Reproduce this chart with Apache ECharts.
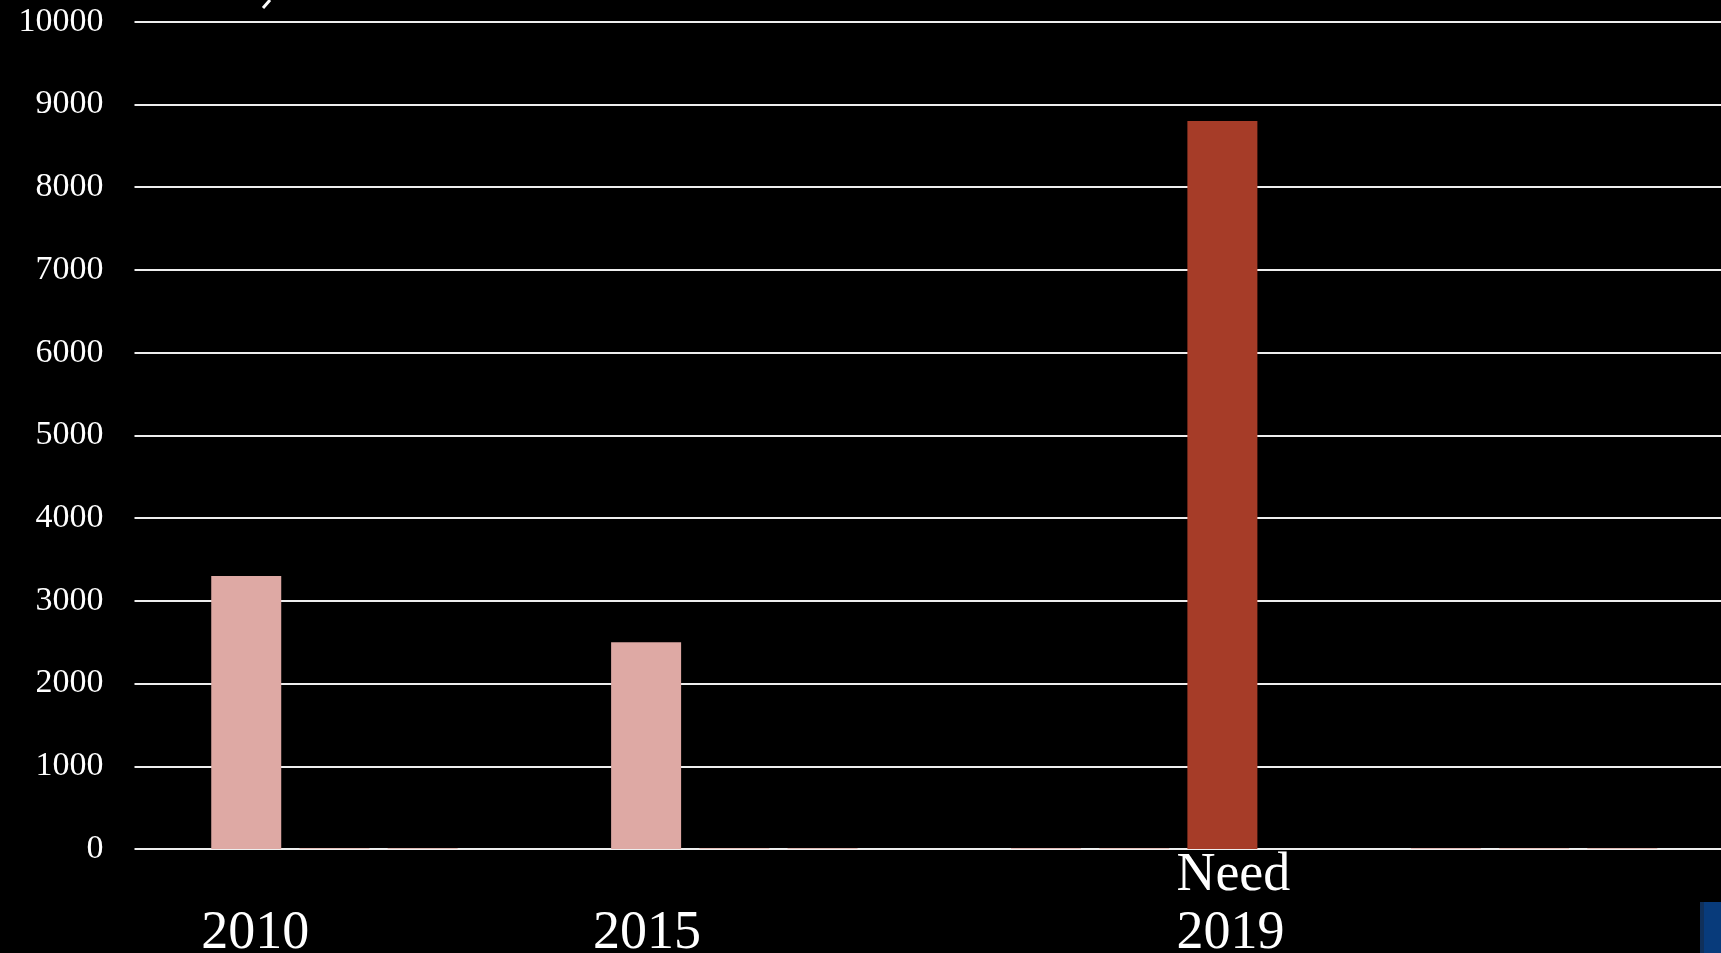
<!DOCTYPE html>
<html>
<head>
<meta charset="utf-8">
<script src="https://cdn.jsdelivr.net/npm/echarts@6/dist/echarts.min.js"></script>
<style>
  html, body { margin: 0; padding: 0; background: #000; overflow: hidden; width: 1721px; height: 953px; }
  #chart { width: 1734px; height: 953px; }
</style>
</head>
<body>
<div id="chart"></div>
<script>
// ---- data ----
const categories = ['\n2010', '\n2015', 'Need\n2019', ''];
const seriesA = [3300, 2500, 10, 10];
const seriesB = [10, 10, 10, 10];
const seriesC = [8, 8, 8800, 10];
const yTicks = [0, 1000, 2000, 3000, 4000, 5000, 6000, 7000, 8000, 9000, 10000];

// label placement (style, not data)
const labelOffsetX = [-45, -53, -46, 0];

const chart = echarts.init(document.getElementById('chart'), null, { renderer: 'canvas' });

const serifFont = '"Liberation Serif", "DejaVu Serif", serif';

function makeItems(values, color, sliverColor) {
  return values.map((v, i) => ({
    value: v,
    itemStyle: { color: v > 100 ? color : sliverColor },
    label: {
      show: v > 100,
      position: 'bottom',
      distance: -2,
      align: 'left',
      offset: [labelOffsetX[i], 0],
      formatter: () => categories[i],
      color: '#ffffff',
      fontFamily: serifFont,
      fontSize: 54,
      lineHeight: 58
    }
  }));
}

const option = {
  backgroundColor: '#000000',
  animation: false,
  grid: { left: 134.5, right: 0, top: 21.7, bottom: 104, containLabel: false },
  xAxis: {
    type: 'category',
    data: categories,
    axisLine: { show: false },
    axisTick: { show: false },
    axisLabel: { show: false },
    splitLine: { show: false }
  },
  yAxis: {
    type: 'value',
    min: yTicks[0],
    max: yTicks[yTicks.length - 1],
    interval: yTicks[1] - yTicks[0],
    axisLine: { show: false },
    axisTick: { show: false },
    axisLabel: {
      color: '#ffffff',
      fontFamily: serifFont,
      fontSize: 34,
      margin: 31,
      formatter: (v) => String(v)
    },
    splitLine: { lineStyle: { color: '#eeeeee', width: 2 } }
  },
  series: [
    { type: 'bar', data: makeItems(seriesA, '#DEA9A4', '#DEA9A4'), barWidth: 70, barGap: '26%', z: 2 },
    { type: 'bar', data: makeItems(seriesB, '#E3B2AA', '#E3B2AA'), barWidth: 70, barGap: '26%', z: 2 },
    { type: 'bar', data: makeItems(seriesC, '#A63C28', '#D9A79F'), barWidth: 70, barGap: '26%', z: 2 }
  ],
  graphic: [
    { type: 'line', shape: { x1: 270, y1: 0, x2: 263, y2: 8 }, style: { stroke: '#ffffff', lineWidth: 3 }, z: 10 },
    { type: 'rect', shape: { x: 1700, y: 902, width: 21, height: 51 }, style: { fill: '#083B7B' }, z: 10 },
    { type: 'rect', shape: { x: 1700, y: 902, width: 4, height: 51 }, style: { fill: '#10305A' }, z: 11 }
  ]
};

chart.setOption(option);
</script>
</body>
</html>
